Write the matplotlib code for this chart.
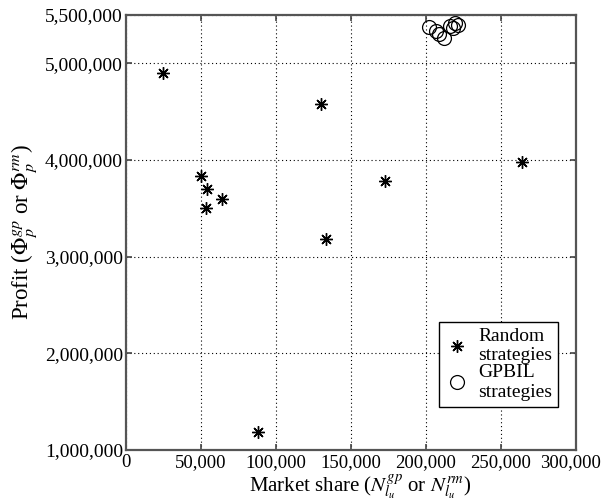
import matplotlib
matplotlib.use("Agg")
import matplotlib.pyplot as plt
import matplotlib.transforms as mtransforms
from matplotlib.ticker import FuncFormatter

plt.rcParams['font.family'] = ['Liberation Serif', 'DejaVu Serif']
plt.rcParams['mathtext.fontset'] = 'stix'

random_x = [24700, 130000, 50400, 54400, 64200, 53300, 133500, 172900, 264000, 88000]
random_y = [4900000, 4580000, 3830000, 3700000, 3600000, 3506000, 3185000, 3785000, 3980000, 1186000]

gpbil_x = [202000, 206700, 208700, 212000, 216000, 219300, 221300, 218000]
gpbil_y = [5374000, 5333000, 5302000, 5261000, 5385000, 5416000, 5395000, 5364000]

x_ticks = [0, 50000, 100000, 150000, 200000, 250000, 300000]
y_ticks = [1000000, 2000000, 3000000, 4000000, 5000000, 5500000]

fig = plt.figure(figsize=(6.05, 5.01), dpi=100)
ax = fig.add_axes([0.208, 0.102, 0.744, 0.868])

ax.plot(random_x, random_y, linestyle='none', marker=(8, 2, 0), markersize=9,
        color='black', markeredgewidth=1.0, label='Random\nstrategies')
ax.plot(gpbil_x, gpbil_y, linestyle='none', marker='o', markersize=10,
        markerfacecolor='none', markeredgecolor='black', markeredgewidth=0.9,
        label='GPBIL\nstrategies')

ax.set_xlim(0, 300000)
ax.set_ylim(1000000, 5500000)
ax.set_xticks(x_ticks)
ax.set_yticks(y_ticks)
fmt = FuncFormatter(lambda v, p: f"{int(round(v)):,}")
ax.xaxis.set_major_formatter(fmt)
ax.yaxis.set_major_formatter(fmt)

ax.grid(True, linestyle=(0, (1, 2.5)), color='black', linewidth=0.8)
ax.tick_params(direction='in', top=True, right=True, length=4,
               width=1.2, color='#444444')
ax.tick_params(axis='x', labelsize=13.5, pad=3)
ax.tick_params(axis='y', labelsize=14, pad=2)
for s in ax.spines.values():
    s.set_linewidth(1.6)
    s.set_color('#555555')

# nudge last x tick label left so it stays inside the figure
last = ax.get_xticklabels()[-1]
last.set_transform(last.get_transform() + mtransforms.ScaledTranslation(-5/100, 0, fig.dpi_scale_trans))

ax.set_xlabel(r"Market share ($N_{l_u}^{gp}$ or $N_{l_u}^{rm}$)", fontsize=15, labelpad=0)
ax.xaxis.set_label_coords(0.52, -0.053)
ax.set_ylabel(r"Profit ($\Phi_p^{gp}$ or $\Phi_p^{rm}$)", fontsize=16.5, labelpad=4)

leg = ax.legend(loc='lower right', bbox_to_anchor=(0.96, 0.099), borderaxespad=0,
                fontsize=14, fancybox=False, framealpha=1, edgecolor='black',
                handlelength=1.2, handletextpad=0.5, labelspacing=0.0,
                borderpad=0.3)
leg.get_frame().set_linewidth(1.0)

fig.savefig("out.png", dpi=100)
